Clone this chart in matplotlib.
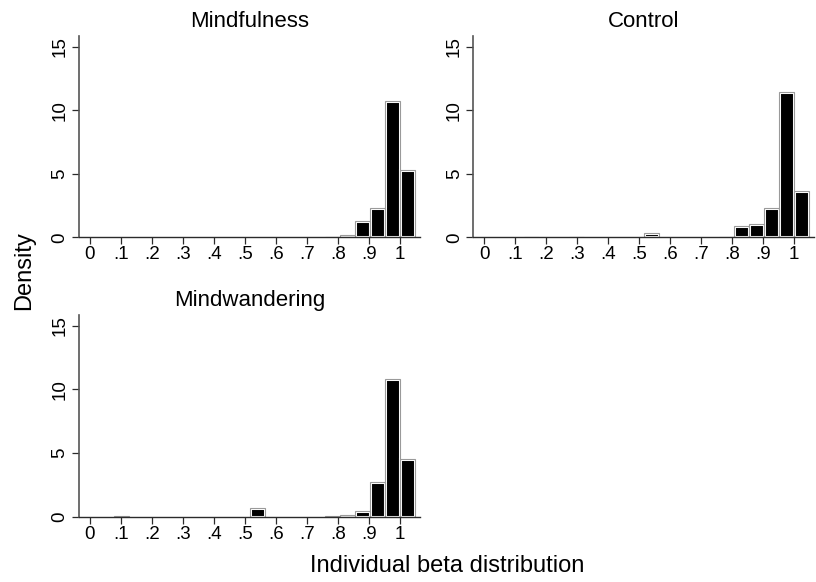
import matplotlib
matplotlib.use("Agg")
import matplotlib.pyplot as plt
import numpy as np

# Histogram bins (left edges) and bin width
bin_width = 0.0485
bin_lefts = [0.0785, 0.127, 0.2725, 0.515, 0.7575, 0.806, 0.8545, 0.903, 0.9515, 1.0]

# Densities per group, aligned with bin_lefts
mindfulness = [0.0, 0.0, 0.0, 0.0, 0.03, 0.22, 1.30, 2.30, 10.75, 5.30]
control = [0.0, 0.05, 0.05, 0.30, 0.05, 0.90, 1.05, 2.30, 11.45, 3.65]
mindwandering = [0.03, 0.0, 0.0, 0.65, 0.03, 0.15, 0.45, 2.75, 10.85, 4.55]

panel_titles = ["Mindfulness", "Control", "Mindwandering"]
x_ticks = [0, 0.1, 0.2, 0.3, 0.4, 0.5, 0.6, 0.7, 0.8, 0.9, 1.0]
x_tick_labels = ["0", ".1", ".2", ".3", ".4", ".5", ".6", ".7", ".8", ".9", "1"]
y_ticks = [0, 5, 10, 15]
y_tick_labels = ["0", "5", "10", "15"]

plt.rcParams["font.family"] = ["Liberation Sans", "DejaVu Sans"]

W, H = 816, 582
fig = plt.figure(figsize=(W / 100, H / 100), dpi=100)


def rect(left, top, right, bottom):
    return [left / W, 1 - bottom / H, (right - left) / W, (bottom - top) / H]


axes_boxes = [
    rect(79, 36, 420, 237.3),
    rect(473.3, 36, 814.3, 237.3),
    rect(79, 315, 420, 516.7),
]

series = [mindfulness, control, mindwandering]
axis_col = "#2b2b2b"

for box, title, dens in zip(axes_boxes, panel_titles, series):
    ax = fig.add_axes(box)
    lefts = [l for l, d in zip(bin_lefts, dens) if d > 0]
    heights = [d for d in dens if d > 0]
    # black fill with a white halo, then a thin grey outline on top
    ax.bar(lefts, heights, width=bin_width, align="edge", color="black",
           edgecolor="white", linewidth=2.2, zorder=1)
    ax.bar(lefts, heights, width=bin_width, align="edge", facecolor="none",
           edgecolor="#9a9a9a", linewidth=0.8, zorder=1.5)

    ax.set_xlim(-0.035, 1.065)
    ax.set_ylim(0, 15.85)
    ax.set_xticks(x_ticks)
    ax.set_xticklabels(x_tick_labels)
    ax.set_yticks(y_ticks)
    ax.set_yticklabels(y_tick_labels, rotation=90, va="center")

    for s in ["top", "right"]:
        ax.spines[s].set_visible(False)
    ax.spines["left"].set_color("#555555")
    ax.spines["left"].set_linewidth(1.2)
    ax.spines["bottom"].set_color(axis_col)
    ax.spines["bottom"].set_linewidth(1.0)
    ax.tick_params(axis="both", direction="out", length=5, width=0.9,
                   color=axis_col, labelsize=13.5, labelcolor="black")
    ax.tick_params(axis="x", pad=1.5)
    ax.tick_params(axis="y", pad=2.5)
    ax.set_title(title, fontsize=16, pad=6.5)

fig.text(24 / W, 1 - 271 / H, "Density", rotation=90, ha="center", va="center",
         fontsize=17)
fig.text(447 / W, 1 - 566 / H, "Individual beta distribution", ha="center",
         va="center", fontsize=17)

fig.savefig("out.png", dpi=100, facecolor="white")
